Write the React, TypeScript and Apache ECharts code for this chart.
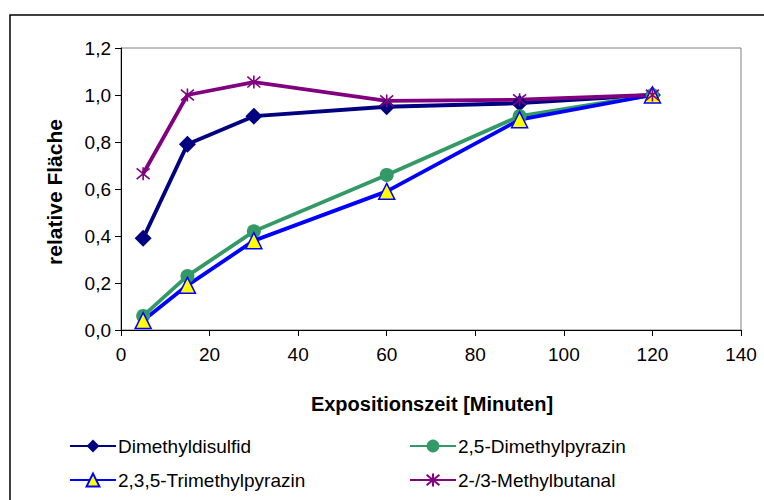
import React, { useEffect, useRef } from "react";
import * as echarts from "echarts";

// Exposure times in minutes
const times = [5, 15, 30, 60, 90, 120];

// Relative peak areas per compound
const dimethyldisulfid = [0.39, 0.79, 0.91, 0.95, 0.965, 1.0];
const dimethylpyrazin = [0.06, 0.23, 0.42, 0.66, 0.91, 1.0];
const trimethylpyrazin = [0.04, 0.19, 0.38, 0.59, 0.895, 1.0];
const methylbutanal = [0.665, 1.0, 1.055, 0.975, 0.98, 1.0];

const seriesNames = [
  "Dimethyldisulfid",
  "2,5-Dimethylpyrazin",
  "2,3,5-Trimethylpyrazin",
  "2-/3-Methylbutanal",
];

const xTitle = "Expositionszeit [Minuten]";
const yTitle = "relative Fläche";

const FONT = "Liberation Sans, Arial, sans-serif";

// asterisk marker: vertical stroke plus an X
const starPath = "path://M6,0L6,12M1,1L11,11M1,11L11,1";

const pairs = (ys: number[]) => times.map((t, i) => [t, ys[i]]);

export default function App() {
  const ref = useRef<HTMLDivElement>(null);

  useEffect(() => {
    if (!ref.current) return;
    const chart = echarts.init(ref.current, undefined, { renderer: "svg" });

    const lineSeries = (
      name: string,
      data: number[],
      color: string,
      symbol: string,
      symbolSize: number,
      itemStyle: any
    ) => ({
      name,
      type: "line",
      data: pairs(data),
      symbol,
      symbolSize,
      showAllSymbol: true,
      lineStyle: { color, width: 3.8 },
      itemStyle,
      emphasis: { disabled: true },
    });

    const legendBase = {
      orient: "vertical",
      top: 431,
      itemWidth: 46,
      itemHeight: 16,
      itemGap: 14,
      textStyle: {
        fontSize: 19,
        color: "#000",
        fontFamily: FONT,
        lineHeight: 20,
        padding: [0, 0, 0, -3],
      },
      selectedMode: false,
    };

    chart.setOption({
      animation: false,
      backgroundColor: "#ffffff",
      textStyle: { fontFamily: FONT },
      grid: {
        left: 121,
        right: 23,
        top: 48,
        bottom: 170,
        show: true,
        borderColor: "#808080",
        borderWidth: 1,
        backgroundColor: "transparent",
      },
      xAxis: {
        type: "value",
        min: 0,
        max: 140,
        interval: 20,
        axisLine: { show: true, onZero: false, lineStyle: { color: "#000", width: 1 } },
        axisTick: { show: true, length: 6, lineStyle: { color: "#000" } },
        splitLine: { show: false },
        axisLabel: {
          color: "#000",
          fontSize: 19,
          fontFamily: FONT,
          margin: 15,
        },
      },
      yAxis: {
        type: "value",
        min: 0,
        max: 1.2,
        interval: 0.2,
        axisLine: { show: true, lineStyle: { color: "#000", width: 1 } },
        axisTick: { show: true, length: 6, lineStyle: { color: "#000" } },
        splitLine: { show: false },
        axisLabel: {
          color: "#000",
          fontSize: 19,
          fontFamily: FONT,
          margin: 10,
          formatter: (v: number) => v.toFixed(1).replace(".", ","),
        },
      },
      legend: [
        { ...legendBase, data: [seriesNames[0], seriesNames[2]], left: 64 },
        { ...legendBase, data: [seriesNames[1], seriesNames[3]], left: 404 },
      ],
      graphic: [
        {
          type: "rect",
          shape: { x: 10, y: 15, width: 900, height: 700 },
          style: { fill: "none", stroke: "#000", lineWidth: 1.5 },
          silent: true,
          z: -10,
        },
        {
          type: "text",
          x: 432,
          y: 404,
          style: {
            text: xTitle,
            font: `bold 20px ${FONT}`,
            fill: "#000",
            align: "center",
            verticalAlign: "middle",
          },
        },
        {
          type: "text",
          x: 54,
          y: 192,
          rotation: Math.PI / 2,
          style: {
            text: yTitle,
            font: `bold 21px ${FONT}`,
            fill: "#000",
            align: "center",
            verticalAlign: "middle",
          },
        },
      ],
      series: [
        lineSeries(seriesNames[0], dimethyldisulfid, "#000080", "diamond", 17, {
          color: "#000080",
        }),
        lineSeries(seriesNames[1], dimethylpyrazin, "#339966", "circle", 14, {
          color: "#339966",
        }),
        lineSeries(seriesNames[2], trimethylpyrazin, "#0000FF", "triangle", 16, {
          color: "#FFFF00",
          borderColor: "#0000FF",
          borderWidth: 1.5,
        }),
        lineSeries(seriesNames[3], methylbutanal, "#800080", starPath, 13, {
          color: "#800080",
          borderColor: "#800080",
          borderWidth: 1.6,
        }),
      ],
    });

    return () => chart.dispose();
  }, []);

  return (
    <div
      ref={ref}
      style={{ position: "fixed", left: 0, top: 0, width: 764, height: 500 }}
    />
  );
}
